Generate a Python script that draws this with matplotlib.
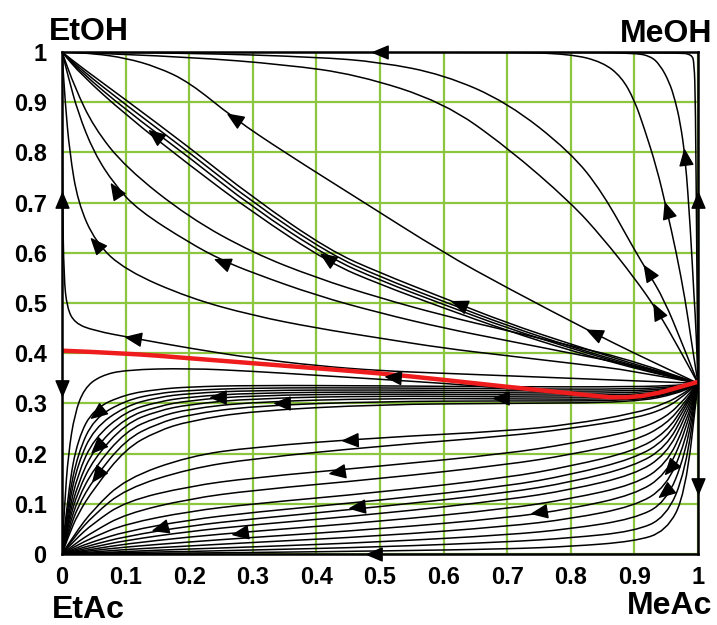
import numpy as np
import matplotlib
matplotlib.use("Agg")
import matplotlib.pyplot as plt
from matplotlib.path import Path
from matplotlib.patches import PathPatch
from matplotlib.markers import MarkerStyle
from matplotlib.transforms import Affine2D

plt.rcParams["font.family"] = ["Liberation Sans", "DejaVu Sans"]

# =========================
# Residue curves (x = MeAc, y = EtOH)
# =========================
# curves ending in the EtOH corner
upper_curves = [
    [(1, 0.34), (0.998, 0.6), (0.996, 0.9), (0.994, 0.98), (0.99, 0.995), (0.97, 0.999), (0.5, 1.0), (0, 1)],
    [(1, 0.34), (0.997, 0.45), (0.994, 0.506), (0.988, 0.65), (0.98, 0.79), (0.972, 0.86), (0.964, 0.904),
     (0.955, 0.94), (0.94, 0.975), (0.925, 0.992), (0.9, 0.998), (0.8, 1.0), (0, 1)],
    [(1, 0.34), (0.99, 0.42), (0.98, 0.506), (0.966, 0.6), (0.951, 0.685), (0.935, 0.77), (0.915, 0.85),
     (0.9, 0.904), (0.88, 0.95), (0.85, 0.98), (0.8, 0.996), (0.7, 1.0), (0, 1)],
    [(1, 0.34), (0.975, 0.42), (0.947, 0.506), (0.921, 0.562), (0.9, 0.606), (0.85, 0.72), (0.8, 0.8),
     (0.7, 0.9), (0.6, 0.955), (0.5, 0.98), (0.4, 0.99), (0.2, 0.998), (0, 1)],
    [(1, 0.34), (0.97, 0.41), (0.936, 0.485), (0.9, 0.55), (0.85, 0.63), (0.8, 0.7), (0.7, 0.81),
     (0.6, 0.9), (0.464, 0.955), (0.35, 0.975), (0.2, 0.99), (0, 1)],
    [(1, 0.34), (0.95, 0.37), (0.9, 0.40), (0.836, 0.44), (0.7, 0.53), (0.6, 0.60), (0.469, 0.705),
     (0.35, 0.80), (0.27, 0.868), (0.2, 0.94), (0.15, 0.97), (0.1, 0.988), (0.05, 0.997), (0, 1)],
    [(1, 0.34), (0.95, 0.36), (0.9, 0.378), (0.8, 0.418), (0.7, 0.46), (0.6, 0.51), (0.5, 0.56),
     (0.42, 0.605), (0.3, 0.71), (0.2, 0.81), (0.1, 0.905), (0.03, 0.97), (0, 1)],
    [(1, 0.34), (0.95, 0.358), (0.9, 0.375), (0.8, 0.413), (0.7, 0.455), (0.6, 0.503), (0.5, 0.552),
     (0.42, 0.598), (0.3, 0.70), (0.2, 0.80), (0.1, 0.895), (0.03, 0.965), (0, 1)],
    [(1, 0.34), (0.95, 0.356), (0.9, 0.372), (0.8, 0.41), (0.7, 0.45), (0.6, 0.497), (0.5, 0.545),
     (0.42, 0.59), (0.3, 0.69), (0.2, 0.79), (0.1, 0.885), (0.03, 0.96), (0, 1)],
    [(1, 0.34), (0.95, 0.355), (0.9, 0.37), (0.8, 0.405), (0.7, 0.445), (0.6, 0.49), (0.5, 0.537),
     (0.42, 0.58), (0.3, 0.68), (0.2, 0.775), (0.1, 0.875), (0.03, 0.955), (0, 1)],
    [(1, 0.34), (0.9, 0.385), (0.8, 0.415), (0.7, 0.445), (0.6, 0.475), (0.5, 0.51), (0.4, 0.55),
     (0.3, 0.60), (0.2, 0.67), (0.1, 0.77), (0.05, 0.85), (0.02, 0.93), (0, 1)],
    [(1, 0.34), (0.95, 0.36), (0.9, 0.375), (0.8, 0.40), (0.7, 0.425), (0.6, 0.45), (0.5, 0.48),
     (0.4, 0.515), (0.3, 0.56), (0.252, 0.585), (0.2, 0.62), (0.12, 0.685), (0.083, 0.735),
     (0.05, 0.80), (0.025, 0.88), (0.01, 0.95), (0, 1)],
    [(1, 0.34), (0.9, 0.365), (0.8, 0.38), (0.7, 0.395), (0.6, 0.41), (0.5, 0.43), (0.4, 0.45),
     (0.3, 0.475), (0.2, 0.51), (0.1, 0.565), (0.053, 0.62), (0.025, 0.7), (0.012, 0.8),
     (0.005, 0.9), (0, 1)],
    [(1, 0.34), (0.9, 0.345), (0.8, 0.35), (0.7, 0.355), (0.6, 0.36), (0.5, 0.365), (0.4, 0.375),
     (0.3, 0.39), (0.2, 0.41), (0.112, 0.43), (0.05, 0.445), (0.02, 0.46), (0.008, 0.49),
     (0.003, 0.55), (0.001, 0.7), (0, 1)],
]

# curve just under the red boundary
e_curve = [(0, 0), (0.004, 0.1), (0.01, 0.2), (0.02, 0.28), (0.035, 0.33), (0.06, 0.355), (0.1, 0.367),
           (0.2, 0.37), (0.3, 0.364), (0.4, 0.356), (0.5, 0.348), (0.6, 0.34), (0.7, 0.33),
           (0.8, 0.318), (0.9, 0.305), (0.95, 0.32), (1, 0.34)]

# dense bundle EtAc -> plateau near 0.3
f_x = [0, 0.01, 0.025, 0.05, 0.1, 0.15, 0.2, 0.3, 0.5, 0.7, 0.9, 0.97, 1]
f_y = [
    [0, 0.13, 0.23, 0.29, 0.318, 0.328, 0.333, 0.336, 0.335, 0.333, 0.333, 0.336, 0.34],
    [0, 0.11, 0.2, 0.27, 0.306, 0.32, 0.326, 0.331, 0.331, 0.329, 0.328, 0.334, 0.34],
    [0, 0.095, 0.18, 0.25, 0.295, 0.312, 0.32, 0.326, 0.327, 0.325, 0.324, 0.332, 0.34],
    [0, 0.08, 0.16, 0.23, 0.284, 0.303, 0.313, 0.321, 0.323, 0.321, 0.32, 0.33, 0.34],
    [0, 0.07, 0.14, 0.21, 0.272, 0.294, 0.306, 0.316, 0.319, 0.317, 0.316, 0.328, 0.34],
    [0, 0.06, 0.125, 0.19, 0.26, 0.285, 0.298, 0.31, 0.315, 0.313, 0.312, 0.326, 0.34],
    [0, 0.05, 0.11, 0.17, 0.245, 0.273, 0.289, 0.303, 0.31, 0.309, 0.308, 0.324, 0.34],
    [0, 0.042, 0.095, 0.15, 0.228, 0.26, 0.278, 0.295, 0.304, 0.305, 0.305, 0.322, 0.34],
    [0, 0.035, 0.08, 0.13, 0.21, 0.245, 0.265, 0.285, 0.298, 0.3, 0.302, 0.32, 0.34],
]

# lower fan EtAc -> MeAc/MeOH azeotrope
g_x = [0, 0.02, 0.05, 0.1, 0.2, 0.3, 0.5, 0.7, 0.8, 0.9, 0.95, 0.98, 1]
g_y = [
    [0, 0.04, 0.09, 0.15, 0.195, 0.213, 0.232, 0.245, 0.258, 0.28, 0.3, 0.322, 0.34],
    [0, 0.035, 0.078, 0.13, 0.17, 0.19, 0.215, 0.235, 0.25, 0.27, 0.29, 0.318, 0.34],
    [0, 0.028, 0.062, 0.105, 0.135, 0.152, 0.175, 0.2, 0.22, 0.245, 0.272, 0.31, 0.34],
    [0, 0.02, 0.045, 0.08, 0.11, 0.127, 0.15, 0.178, 0.198, 0.225, 0.258, 0.303, 0.34],
    [0, 0.015, 0.034, 0.06, 0.085, 0.1, 0.123, 0.152, 0.175, 0.205, 0.242, 0.298, 0.34],
    [0, 0.011, 0.025, 0.045, 0.068, 0.083, 0.107, 0.135, 0.158, 0.19, 0.228, 0.292, 0.34],
    [0, 0.008, 0.019, 0.035, 0.056, 0.07, 0.094, 0.122, 0.143, 0.175, 0.213, 0.283, 0.34],
    [0, 0.006, 0.014, 0.027, 0.045, 0.058, 0.08, 0.108, 0.128, 0.158, 0.198, 0.272, 0.34],
    [0, 0.004, 0.01, 0.02, 0.034, 0.045, 0.065, 0.09, 0.11, 0.138, 0.178, 0.258, 0.34],
    [0, 0.003, 0.007, 0.014, 0.024, 0.033, 0.05, 0.072, 0.09, 0.118, 0.158, 0.243, 0.34],
    [0, 0.002, 0.004, 0.009, 0.016, 0.023, 0.036, 0.055, 0.07, 0.095, 0.133, 0.222, 0.34],
    [0, 0.001, 0.002, 0.005, 0.01, 0.014, 0.024, 0.038, 0.05, 0.07, 0.103, 0.197, 0.34],
    [0, 0.001, 0.001, 0.003, 0.005, 0.008, 0.014, 0.024, 0.032, 0.045, 0.073, 0.163, 0.34],
    [0, 0, 0.001, 0.001, 0.002, 0.003, 0.006, 0.01, 0.015, 0.025, 0.045, 0.118, 0.34],
]

# distillation boundary (red)
red_x = [0, 0.1, 0.2, 0.3, 0.4, 0.5, 0.6, 0.7, 0.8, 0.9, 1]
red_y = [0.405, 0.40, 0.39, 0.38, 0.37, 0.36, 0.347, 0.333, 0.32, 0.307, 0.343]

# arrow heads: position and direction
arrow_x = [0.5, 0.27, 0.146, 0.083, 0.053, 0.252, 0.417, 0.624, 0.836, 0.921, 0.936, 0.951, 0.98,
           1.0, 1.0, 0.0, 0.0, 0.112, 0.52, 0.245, 0.346, 0.69, 0.055, 0.055, 0.055,
           0.453, 0.432, 0.464, 0.154, 0.28, 0.75, 0.956, 0.948, 0.49]
arrow_y = [1.0, 0.868, 0.835, 0.725, 0.617, 0.582, 0.59, 0.498, 0.44, 0.562, 0.485, 0.685, 0.79,
           0.705, 0.135, 0.705, 0.33, 0.43, 0.353, 0.313, 0.30, 0.31, 0.28, 0.213, 0.157,
           0.227, 0.163, 0.094, 0.052, 0.042, 0.084, 0.171, 0.124, 0.0]
arrow_dx = [-1, -1, -1, -0.5, -0.7, -1, -1, -1, -1, -0.5, -0.4, -0.25, -0.1,
            0, 0, 0, 0, -1, -1, -1, -1, -1, -1, -0.8, -0.6,
            -1, -1, -1, -1, -1, -1, -1, -1, -1]
arrow_dy = [0, 0.82, 1, 1, 1, 0.5, 0.85, 0.5, 0.6, 1, 1, 1, 1,
            1, -1, 1, -1, 0.2, 0.1, 0, 0, 0, -1, -1, -1,
            -0.05, -0.2, -0.15, -0.35, -0.2, -0.2, -1.5, -1, 0]

tick_vals = [0, 0.1, 0.2, 0.3, 0.4, 0.5, 0.6, 0.7, 0.8, 0.9, 1]
tick_text = ["0", "0.1", "0.2", "0.3", "0.4", "0.5", "0.6", "0.7", "0.8", "0.9", "1"]


def smooth(points):
    # quadratic spline through midpoints of the read points
    verts = [points[0]]
    codes = [Path.MOVETO]
    for i in range(1, len(points) - 1):
        p, q = points[i], points[i + 1]
        verts += [p, ((p[0] + q[0]) / 2, (p[1] + q[1]) / 2)]
        codes += [Path.CURVE3, Path.CURVE3]
    verts.append(points[-1])
    codes.append(Path.LINETO)
    return Path(verts, codes)


def draw_curve(ax, points, color="black", lw=1.1, z=3):
    patch = PathPatch(smooth(points), facecolor="none", edgecolor=color, lw=lw,
                      zorder=z, capstyle="round", joinstyle="round")
    ax.add_patch(patch)


fig = plt.figure(figsize=(7.17, 6.25), dpi=100)
ax = fig.add_axes([62 / 717, 71 / 625, 636 / 717, 502 / 625])
ax.set_xlim(0, 1)
ax.set_ylim(0, 1)

for pts in upper_curves:
    draw_curve(ax, pts)
draw_curve(ax, e_curve)
for row in f_y:
    draw_curve(ax, list(zip(f_x, row)))
for row in g_y:
    draw_curve(ax, list(zip(g_x, row)))
draw_curve(ax, list(zip(red_x, red_y)), color="#ee1c1c", lw=3.2, z=4)

# arrow heads as rotated triangles
tri = Path([(0.5, 0), (-0.5, 0.42), (-0.5, -0.42), (0.5, 0)],
           [Path.MOVETO, Path.LINETO, Path.LINETO, Path.CLOSEPOLY])
for x, y, dx, dy in zip(arrow_x, arrow_y, arrow_dx, arrow_dy):
    p0 = ax.transData.transform((x, y))
    p1 = ax.transData.transform((x + 0.01 * dx, y + 0.01 * dy))
    ang = np.degrees(np.arctan2(p1[1] - p0[1], p1[0] - p0[0]))
    m = MarkerStyle(tri, transform=Affine2D().rotate_deg(ang))
    ax.plot([x], [y], marker=m, ms=11, color="black", ls="none", zorder=6, clip_on=False)

ax.set_xticks(tick_vals)
ax.set_xticklabels(tick_text)
ax.set_yticks(tick_vals)
ax.set_yticklabels(tick_text)
ax.tick_params(length=0, labelsize=17, pad=9)
ax.tick_params(axis="y", pad=11)
for lab in ax.get_xticklabels() + ax.get_yticklabels():
    lab.set_fontweight("bold")

ax.grid(True, color="#8cc63f", lw=1.6)
ax.set_axisbelow(True)
for s in ax.spines.values():
    s.set_linewidth(1.8)
    s.set_color("black")
    s.set_zorder(5)

fig.text(49 / 717, 1 - 40 / 625, "EtOH", fontsize=23, fontweight="bold", ha="left", va="baseline")
fig.text(712 / 717, 1 - 42 / 625, "MeOH", fontsize=23, fontweight="bold", ha="right", va="baseline")
fig.text(52 / 717, 1 - 618 / 625, "EtAc", fontsize=23, fontweight="bold", ha="left", va="baseline")
fig.text(712 / 717, 1 - 621 / 625, "MeAc", fontsize=23, fontweight="bold", ha="right", va="bottom")

fig.savefig("out.png", dpi=100)
